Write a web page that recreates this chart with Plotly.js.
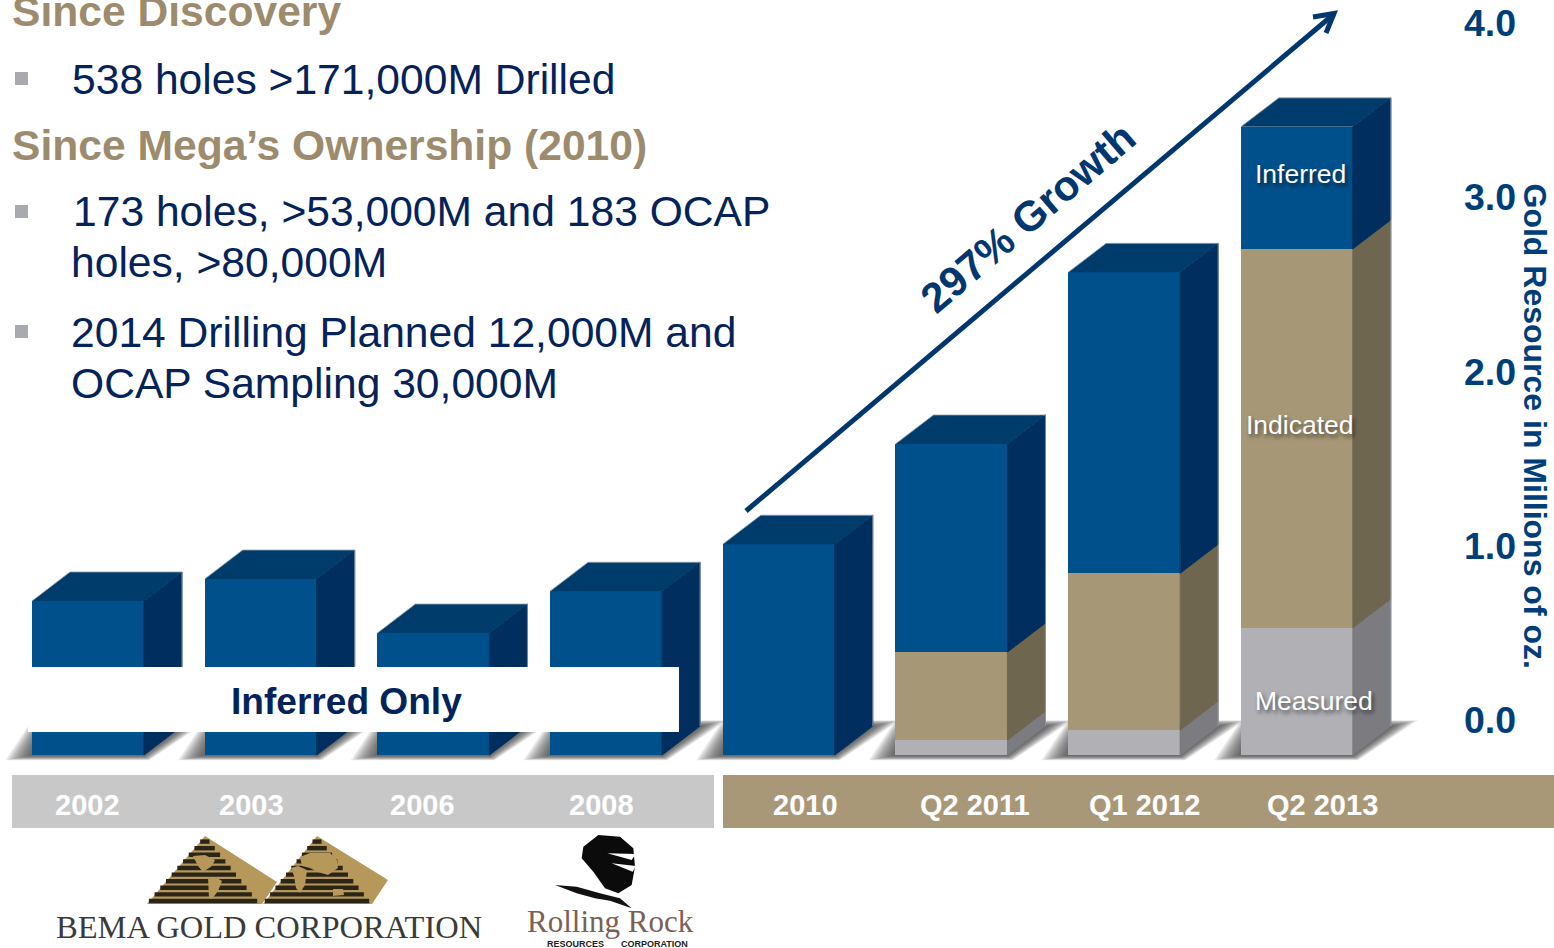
<!DOCTYPE html>
<html>
<head>
<meta charset="utf-8">
<script src="https://cdn.plot.ly/plotly-3.0.1.min.js"></script>
<style>html,body{margin:0;padding:0;background:#fff;overflow:hidden}#chart{width:1554px;height:948px}</style>
</head>
<body>
<div id="chart"></div>
<script>
// Gold resource by year, millions of oz.
const periods = ["2002", "2003", "2006", "2008", "2010", "Q2 2011", "Q1 2012", "Q2 2013"];
const measured = [0, 0, 0, 0, 0, 0.086, 0.143, 0.73];
const indicated = [0, 0, 0, 0, 0, 0.505, 0.90, 2.175];
const inferred = [0.884, 1.01, 0.70, 0.94, 1.21, 1.194, 1.727, 0.70];
const resourceTicks = [0, 1, 2, 3, 4];

// Page geometry
const W = 1554, H = 948;
const px = x => x / W;
const py = y => 1 - y / H;

// Slots along the floor and the look of the extruded columns
const slots = periods.map((_, i) => i);
const barWidth = 0.6485, depthX = 0.22, depthY = 0.1664;
const palette = {
  inferred: {front: "#00508B", side: "#002F5F"},
  indicated: {front: "#A69877", side: "#6F6650"},
  measured: {front: "#B0B0B5", side: "#7B7B80"}
};
const topColor = "#003C6B", edgeColor = "rgba(150,160,175,0.8)";

const navy = "#04235A", tan = "#9C8B6C", blue = "#003E7A", arrowBlue = "#00376F";

const traces = [];
[["measured", measured], ["indicated", indicated], ["inferred", inferred]].forEach(([name, vals]) => {
  traces.push({
    type: "bar", name, x: slots, y: vals, width: barWidth,
    marker: {color: palette[name].front, line: {width: 0}}, hoverinfo: "name+y"
  });
});

// Side and top faces follow each stack through the same scales
slots.forEach(i => {
  const xl = i - barWidth / 2, xr = i + barWidth / 2;
  let b = 0;
  [["measured", measured[i]], ["indicated", indicated[i]], ["inferred", inferred[i]]].forEach(([name, v]) => {
    if (v <= 0) return;
    const t = b + v;
    traces.push({
      type: "scatter", mode: "lines", fill: "toself", fillcolor: palette[name].side,
      line: {width: 1, color: palette[name].side}, hoverinfo: "skip",
      x: [xr, xr + depthX, xr + depthX, xr, xr],
      y: [b, b + depthY, t + depthY, t, b]
    });
    b = t;
  });
  traces.push({
    type: "scatter", mode: "lines", fill: "toself", fillcolor: topColor,
    line: {width: 0}, hoverinfo: "skip",
    x: [xl, xl + depthX, xr + depthX, xr, xl],
    y: [b, b + depthY, b + depthY, b, b]
  });
  traces.push({
    type: "scatter", mode: "lines", line: {color: edgeColor, width: 1}, hoverinfo: "skip",
    x: [xl, xl + depthX, xr + depthX, xr + depthX],
    y: [b, b + depthY, b + depthY, depthY]
  });
});

// Keeps the right-hand value axis alive
traces.push({type: "scatter", mode: "none", x: [0], y: [0], yaxis: "y2", hoverinfo: "skip"});

const shapes = [];
const pathPx = pts => pts.map((p, i) => (i ? "L" : "M") + px(p[0]).toFixed(5) + " " + py(p[1]).toFixed(5)).join(" ") + " Z";
const paperPath = (pts, fill, layer) => shapes.push({
  type: "path", xref: "paper", yref: "paper", path: pathPx(pts), fillcolor: fill,
  line: {width: 0}, layer: layer || "above"
});
const paperRect = (x0, y0, x1, y1, fill, layer) => shapes.push({
  type: "rect", xref: "paper", yref: "paper", x0: px(x0), x1: px(x1), y0: py(y1), y1: py(y0),
  fillcolor: fill, line: {width: 0}, layer: layer || "above"
});

// Soft floor shadow: stacked translucent parallelograms
slots.forEach(i => {
  const xl = i - barWidth / 2, xr = i + barWidth / 2;
  const steps = 12;
  for (let s = 0; s < steps; s++) {
    const k = s / (steps - 1);
    const lerp = (a, c) => a + (c - a) * k;
    const pts = [
      [lerp(xl - 0.155, xl - 0.02), lerp(-0.03, -0.006)],
      [lerp(xr + 0.03, xr), lerp(-0.03, -0.006)],
      [lerp(xr + 0.376, xr + 0.24), lerp(0.2, 0.17)],
      [lerp(xl, xl + 0.06), lerp(0.2, 0.17)]
    ];
    shapes.push({
      type: "path", xref: "x", yref: "y", layer: "below",
      path: pts.map((p, j) => (j ? "L" : "M") + p[0] + " " + p[1]).join(" ") + " Z",
      fillcolor: "rgba(40,40,40,0.09)", line: {width: 0}
    });
  }
});

// Period bands
paperRect(12, 775, 714, 828, "#C8C8C8", "below");
paperRect(723, 775, 1554, 828, "#A89878", "below");

// "Inferred Only" panel
paperRect(28, 667, 679, 732, "#FFFFFF");

// Bullets
[[72], [205], [325]].forEach(([y]) => paperRect(15, y, 28, y + 13, "#A9A9B0"));

// Growth arrow
shapes.push({type: "line", xref: "paper", yref: "paper",
  x0: px(746), y0: py(511), x1: px(1334), y1: py(14),
  line: {color: arrowBlue, width: 5}});
shapes.push({type: "path", xref: "paper", yref: "paper", fillcolor: "rgba(0,0,0,0)",
  path: "M" + px(1313) + " " + py(17) + " L" + px(1334) + " " + py(13.5) + " L" + px(1326) + " " + py(33),
  line: {color: arrowBlue, width: 5}});

// Bema mark: two gold pyramids with dark strata and continents
const gold = "#B5985A", strata = "#2B2518";
function pyramid(ax, ay, blx, brx, by, wingX, wingY, wingBx) {
  paperPath([[ax, ay], [wingX, wingY], [wingBx, by + 2], [blx - 1, by + 2]], gold);
  for (let y = by - 1; y > ay + 3; y -= 6.6) {
    const f = (y - ay) / (by - ay);
    shapes.push({type: "line", xref: "paper", yref: "paper", layer: "above",
      x0: px(ax + (blx - ax) * f), x1: px(ax + (brx - ax) * f), y0: py(y), y1: py(y),
      line: {color: strata, width: 4.4}});
  }
}
pyramid(205, 836, 148, 258, 902, 277, 882, 262);
pyramid(317, 836, 264, 370, 902, 388, 880, 372);
[
  // the Americas
  [[193, 856], [205, 855], [215, 860], [212, 866], [206, 870], [203, 872], [198, 866]],
  [[208, 877], [217, 878], [222, 881], [218, 891], [212, 899], [209, 898]],
  // Eurasia, Africa, Australia
  [[300, 857], [310, 853], [330, 853], [337, 860], [338, 868], [328, 875], [318, 872], [310, 868], [302, 866]],
  [[291, 868], [298, 866], [307, 870], [305, 885], [300, 893], [296, 888], [294, 876]],
  [[333, 889], [343, 889], [344, 895], [333, 896]]
].forEach(p => paperPath(p, gold));

// Rolling Rock mark: dark pebble and swoosh
const rockPts = [[235, 15], [300, 20], [340, 55], [345, 110], [335, 165], [295, 190], [255, 175], [220, 125], [185, 85], [190, 50]];
const swooshPts = [[105, 165], [170, 170], [240, 190], [300, 205], [335, 235], [270, 212], [225, 205], [170, 190]];
const rockXY = p => [520 + p[0] / 3, 830 + p[1] / 3];
paperPath(rockPts.map(rockXY), "#0B0B0B");
paperPath(swooshPts.map(rockXY), "#111111");
paperPath([[347, 72], [262, 70], [335, 90]].map(rockXY), "#FFFFFF");
paperPath([[348, 108], [275, 100], [338, 125]].map(rockXY), "#FFFFFF");

// Left-hand text block and every free label
const annotations = [];
const note = (text, x, y, size, color, opts) => annotations.push(Object.assign({
  text, xref: "paper", yref: "paper", x: px(x), y: py(y), showarrow: false,
  xanchor: "left", yanchor: "middle", borderpad: 0,
  font: Object.assign({family: "Liberation Sans", size, color}, (opts && opts.font) || {})
}, opts && {xanchor: opts.xanchor || "left", textangle: opts.textangle || 0}));

note("<b>Since Discovery</b>", 11, 11.5, 42.6, tan);
note("538 holes &gt;171,000M Drilled", 71, 79, 42.6, navy);
note("<b>Since Mega’s Ownership (2010)</b>", 11, 145, 42.6, tan);
note("173 holes, &gt;53,000M and 183 OCAP", 72, 211.5, 42.6, navy);
note("holes, &gt;80,000M", 70, 262.5, 42.6, navy);
note("2014 Drilling Planned 12,000M and", 70, 331.5, 42.6, navy);
note("OCAP Sampling 30,000M", 70, 383, 42.6, navy);

note("<b>Inferred Only</b>", 346, 701, 37.1, navy, {xanchor: "center"});

const labelShadow = "2px 3px 4px rgba(0,0,0,0.55)";
note("Inferred", 1300, 173.5, 26.5, "#FFFFFF", {xanchor: "center", font: {shadow: labelShadow}});
note("Indicated", 1300, 425, 26.5, "#FFFFFF", {xanchor: "center", font: {shadow: labelShadow}});
note("Measured", 1314, 701, 26.5, "#FFFFFF", {xanchor: "center", font: {shadow: labelShadow}});

note("<b>297% Growth</b>", 1028, 217.5, 42, arrowBlue, {xanchor: "center", textangle: -40.5});
note("<b>Gold Resource in Millions of oz.</b>", 1535, 425.5, 32, blue, {xanchor: "center", textangle: 90});

const periodLabelX = [87, 251, 422, 601, 805, 975, 1144, 1322];
periods.forEach((p, i) => {
  note("<b>" + p + "</b>", periodLabelX[i], 805, 29, "#FFFFFF", {xanchor: "center"});
});

note("BEMA GOLD CORPORATION", 55, 927, 32.5, "#3A3A3A", {font: {family: "Liberation Serif"}});
note("Rolling Rock", 526, 921.5, 31, "#7A6055", {font: {family: "Liberation Serif"}});
note("<b>RESOURCES</b>", 546, 944, 9, "#222222");
note("<b>CORPORATION</b>", 620, 944, 9, "#222222");

const layout = {
  width: W, height: H, autosize: false,
  margin: {l: 0, r: 0, t: 0, b: 0, pad: 0},
  paper_bgcolor: "#FFFFFF", plot_bgcolor: "rgba(0,0,0,0)",
  barmode: "stack", showlegend: false, hovermode: "closest",
  xaxis: {type: "linear", range: [-0.5096, 8.489], visible: false, fixedrange: true},
  yaxis: {range: [-1.1076, 4.333], visible: false, fixedrange: true},
  yaxis2: {
    overlaying: "y", side: "right", anchor: "free", position: px(1463),
    range: [-1.3085, 4.132], fixedrange: true,
    tickvals: resourceTicks, ticktext: resourceTicks.map(v => "<b>" + v.toFixed(1) + "</b>"),
    tickfont: {family: "Liberation Sans", size: 37.5, color: blue},
    showgrid: false, zeroline: false, showline: false, ticks: ""
  },
  shapes, annotations
};

Plotly.newPlot("chart", traces, layout, {displayModeBar: false, staticPlot: true});
</script>
</body>
</html>
